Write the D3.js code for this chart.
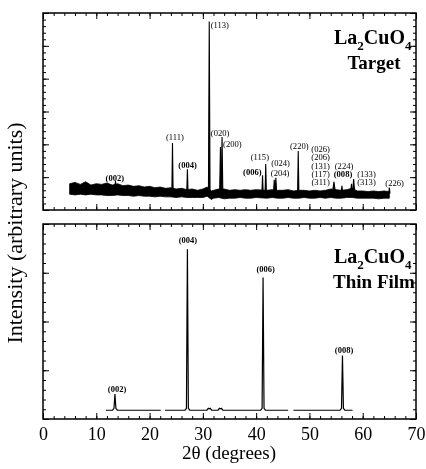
<!DOCTYPE html>
<html lang="en">
<head>
    <meta charset="UTF-8">
    <title>La2CuO4 XRD patterns</title>
    <script src="https://d3js.org/d3.v7.min.js"></script>
    <style>
        body { margin: 0; background: #fff; }
        svg { display: block; will-change: transform; }
        svg text { font-family: "Liberation Serif", "Times New Roman", Times, serif; fill: #000; }
    </style>
</head>
<body>
    <svg id="chart" width="426" height="469"></svg>

    <script>
        // ---- data ----
        // target: noise band of the background, [2theta, low, high]
        const targetBand = [
            [5.0, 2.4, 4.0], [6, 2.3, 4.2], [7, 2.4, 3.9], [8, 2.3, 4.3], [9, 2.4, 3.8],
            [10, 2.3, 4.0], [11, 2.3, 3.9], [12, 2.2, 4.1], [13, 2.2, 3.8], [14, 2.3, 4.0],
            [15, 2.2, 3.7], [16, 2.2, 3.8], [17, 2.1, 3.6], [18, 2.2, 3.7], [19, 2.1, 3.5],
            [20, 2.1, 3.6], [21, 2.0, 3.4], [22, 2.1, 3.5], [23, 2.0, 3.3], [24, 2.0, 3.4],
            [25, 1.9, 3.2], [26, 2.0, 3.3], [27, 1.9, 3.1], [28, 1.9, 3.2], [29, 1.9, 3.0],
            [30, 1.9, 3.2], [30.8, 2.1, 3.5], [31.6, 1.6, 2.9], [32, 1.8, 3.0], [33, 1.9, 3.2],
            [34, 1.7, 3.2], [35, 1.8, 3.0], [36, 1.8, 3.1], [37, 1.9, 3.0], [38, 1.8, 3.1],
            [39, 1.8, 3.0], [40, 1.9, 3.1], [42, 1.8, 3.0], [43, 1.9, 3.1], [44, 1.8, 3.0],
            [45, 1.8, 3.0], [46, 1.9, 3.1], [47, 1.8, 2.9], [48, 1.8, 3.0], [49, 1.9, 3.0],
            [50, 1.8, 2.9], [51, 1.8, 3.0], [52, 1.9, 2.9], [53, 1.8, 3.0], [54, 1.9, 3.2],
            [55, 1.8, 3.1], [56, 1.8, 3.0], [57, 1.9, 3.1], [58, 1.9, 3.3], [59, 1.8, 2.9],
            [60, 1.8, 2.9], [61, 1.8, 2.8], [62, 1.8, 2.9], [63, 1.7, 2.8], [64, 1.8, 2.9],
            [65, 1.8, 2.8]
        ];
        // target: reflections [2theta, peak intensity, half width]
        const targetPeaks = [
            [13.6, 4.4, 0.2], [24.3, 10.2, 0.12], [27.1, 6.2, 0.12], [31.2, 28.7, 0.15],
            [33.3, 9.6, 0.15], [33.6, 11.1, 0.15], [41.2, 5.3, 0.12], [41.8, 7.0, 0.12],
            [43.4, 4.6, 0.15], [43.7, 4.9, 0.15], [47.9, 9.0, 0.12], [54.6, 4.3, 0.3],
            [56.1, 3.7, 0.15], [57.9, 4.0, 0.2], [58.3, 4.7, 0.2], [65.0, 3.4, 0.12]
        ];
        // target: Miller index labels [text, 2theta, intensity, bold, anchor]
        const targetLabels = [
            ["(002)", 13.5, 4.87, true, "middle"], ["(111)", 24.77, 11.1, false, "middle"],
            ["(004)", 27.15, 6.85, true, "middle"], ["(113)", 31.46, 28.16, false, "start"],
            ["(020)", 31.5, 11.7, false, "start"], ["(200)", 33.8, 10.0, false, "start"],
            ["(115)", 40.7, 8.1, false, "middle"], ["(006)", 39.3, 5.8, true, "middle"],
            ["(024)", 44.6, 7.1, false, "middle"], ["(204)", 44.5, 5.7, false, "middle"],
            ["(220)", 48.1, 9.8, false, "middle"], ["(026)", 52.1, 9.3, false, "middle"],
            ["(206)", 52.1, 8.0, false, "middle"], ["(131)", 52.1, 6.75, false, "middle"],
            ["(117)", 52.1, 5.5, false, "middle"], ["(311)", 52.1, 4.25, false, "middle"],
            ["(224)", 56.5, 6.75, false, "middle"], ["(008)", 56.3, 5.5, true, "middle"],
            ["(133)", 60.7, 5.5, false, "middle"], ["(313)", 60.7, 4.25, false, "middle"],
            ["(226)", 66.0, 4.1, false, "middle"]
        ];

        // thin film: measured ranges [from, to] and baseline level
        const filmRanges = [[11.8, 22.1], [22.9, 46.0], [47.0, 58.1]];
        const filmBase = 0.9;
        // thin film: reflections [2theta, peak intensity]
        const filmPeaks = [[13.5, 2.56], [27.1, 17.4], [31.2, 1.05], [33.3, 1.05], [41.3, 14.5], [56.2, 6.5]];
        const filmLabels = [
            ["(002)", 13.9, 3.1], ["(004)", 27.2, 18.4], ["(006)", 41.8, 15.4], ["(008)", 56.5, 7.1]
        ];

        const xTicks = d3.range(0, 71, 10);

        // ---- layout ----
        const svg = d3.select("#chart");
        const left = 43, right = 416;
        const topPanel = { y0: 13, y1: 210 };
        const botPanel = { y0: 224, y1: 419 };

        const x = d3.scaleLinear().domain([0, 70]).range([left, right]);
        const yTop = d3.scaleLinear().domain([0, 30]).range([topPanel.y1, topPanel.y0]);
        const yBot = d3.scaleLinear().domain([0, 20]).range([botPanel.y1, botPanel.y0]);

        function drawFrame(y, panel, showLabels) {
            const g = svg.append("g");
            // inward ticks on all four sides: minor then major
            const specs = [
                [d3.axisBottom(x).tickValues(d3.range(0, 71, 2)).tickSize(-3), panel.y1],
                [d3.axisBottom(x).tickValues(xTicks).tickSize(-6), panel.y1],
                [d3.axisTop(x).tickValues(d3.range(0, 71, 2)).tickSize(-3), panel.y0],
                [d3.axisTop(x).tickValues(xTicks).tickSize(-6), panel.y0]
            ];
            specs.forEach(([ax, ty]) => {
                g.append("g").attr("transform", `translate(0,${ty})`)
                    .call(ax.tickFormat(""))
                    .call(s => s.select(".domain").remove());
            });
            const yMax = y.domain()[1];
            [[d3.axisLeft, left], [d3.axisRight, right]].forEach(([axf, tx]) => {
                g.append("g").attr("transform", `translate(${tx},0)`)
                    .call(axf(y).tickValues(d3.range(0, yMax + 1, 1)).tickSize(-3).tickFormat(""))
                    .call(s => s.select(".domain").remove());
                g.append("g").attr("transform", `translate(${tx},0)`)
                    .call(axf(y).tickValues(d3.range(0, yMax + 1, 5)).tickSize(-6).tickFormat(""))
                    .call(s => s.select(".domain").remove());
            });
            g.selectAll(".tick line").attr("stroke", "#000").attr("stroke-width", 1);

            g.append("rect")
                .attr("x", left).attr("y", panel.y0)
                .attr("width", right - left).attr("height", panel.y1 - panel.y0)
                .attr("fill", "none").attr("stroke", "#000").attr("stroke-width", 1.5);

            if (showLabels) {
                const ax = svg.append("g").attr("transform", `translate(0,${panel.y1})`)
                    .call(d3.axisBottom(x).tickValues(xTicks).tickSize(0).tickPadding(8));
                ax.select(".domain").remove();
                ax.selectAll("text").attr("font-size", 18);
            }
        }

        function compound(yBase, subtitle) {
            const t = svg.append("text")
                .attr("x", 334).attr("y", yBase)
                .attr("font-size", 20).attr("font-weight", "bold");
            t.append("tspan").text("La");
            t.append("tspan").attr("font-size", 13).attr("dy", 6).text("2");
            t.append("tspan").attr("dy", -6).text("CuO");
            t.append("tspan").attr("font-size", 13).attr("dy", 6).text("4");
            svg.append("text")
                .attr("x", 374).attr("y", yBase + 25)
                .attr("text-anchor", "middle")
                .attr("font-size", 19).attr("font-weight", "bold")
                .text(subtitle);
        }

        function peakLabels(data, y, size) {
            svg.append("g").selectAll("text")
                .data(data)
                .join("text")
                .attr("x", d => x(d[1]))
                .attr("y", d => y(d[2]))
                .attr("dy", "0.35em")
                .attr("text-anchor", d => d[4] || "middle")
                .attr("font-size", size)
                .attr("font-weight", d => (d[3] === undefined || d[3]) ? "bold" : "normal")
                .text(d => d[0]);
        }

        // ---- target panel ----
        drawFrame(yTop, topPanel, false);

        svg.append("path")
            .datum(targetBand)
            .attr("d", d3.area().x(d => x(d[0])).y0(d => yTop(d[1])).y1(d => yTop(d[2])))
            .attr("fill", "#000").attr("stroke", "#000").attr("stroke-width", 0.8);

        const targetBaseLevel = 2.5;
        svg.append("g").selectAll("path")
            .data(targetPeaks)
            .join("path")
            .attr("d", d => d3.line()([
                [x(d[0] - d[2]), yTop(targetBaseLevel)],
                [x(d[0]), yTop(d[1])],
                [x(d[0] + d[2]), yTop(targetBaseLevel)]
            ]))
            .attr("fill", "#000").attr("stroke", "#000").attr("stroke-width", 1.1)
            .attr("stroke-linejoin", "miter");

        peakLabels(targetLabels, yTop, 8.6);
        compound(44, "Target");

        // ---- thin film panel ----
        drawFrame(yBot, botPanel, true);

        const line = d3.line().x(d => x(d[0])).y(d => yBot(d[1]));
        filmRanges.forEach(([a, b]) => {
            const pts = [[a, filmBase]];
            filmPeaks.filter(p => p[0] > a && p[0] < b).forEach(([p, h]) => {
                pts.push([p - 0.45, filmBase], [p - 0.18, filmBase + 0.2], [p, h],
                         [p + 0.18, filmBase + 0.2], [p + 0.45, filmBase]);
            });
            pts.push([b, filmBase]);
            svg.append("path").attr("d", line(pts))
                .attr("fill", "none").attr("stroke", "#000").attr("stroke-width", 1.2);
        });

        peakLabels(filmLabels, yBot, 8.5);
        compound(263, "Thin Film");

        // ---- axis titles ----
        svg.append("text")
            .attr("transform", "translate(22,233) rotate(-90)")
            .attr("text-anchor", "middle")
            .attr("font-size", 22)
            .text("Intensity (arbitrary units)");

        svg.append("text")
            .attr("x", 229).attr("y", 459)
            .attr("text-anchor", "middle")
            .attr("font-size", 19)
            .text("2θ (degrees)");
    </script>
</body>
</html>
